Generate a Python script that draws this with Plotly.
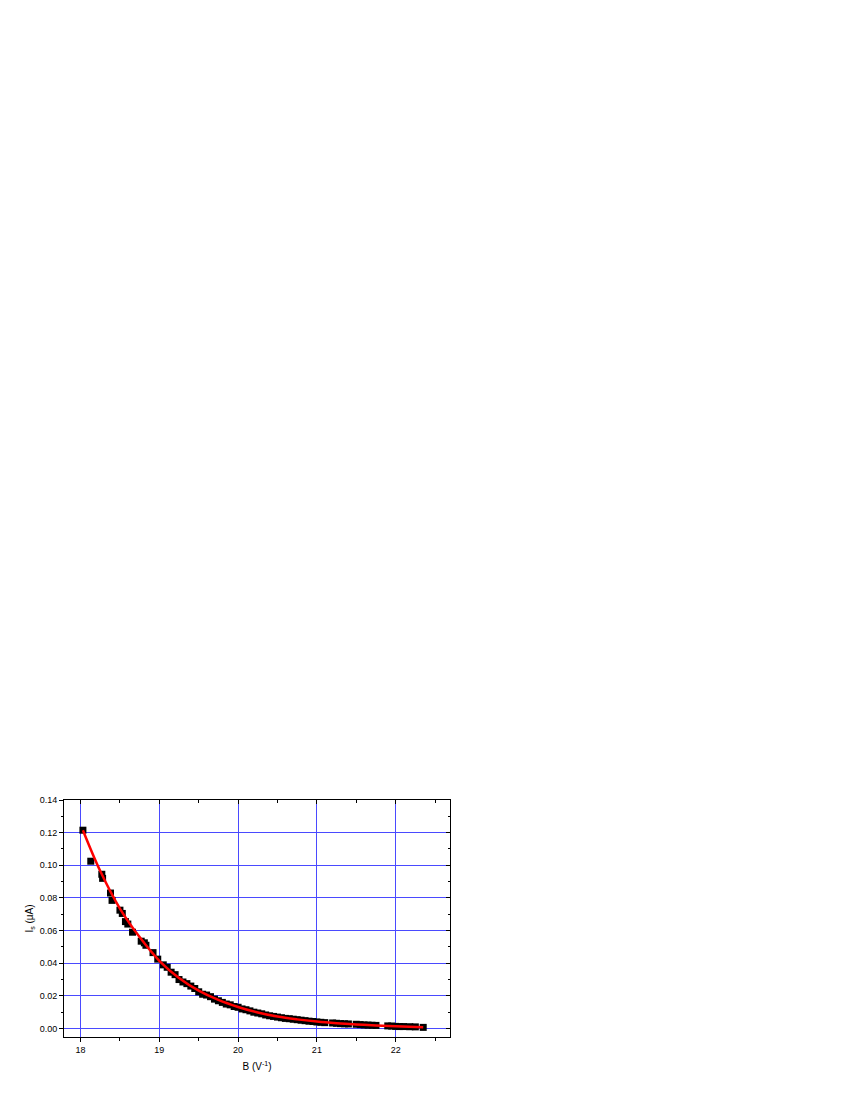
import plotly.graph_objects as go

# measured data (B in V^-1, I_s in µA)
b_data = [18.03, 18.13, 18.27, 18.28, 18.38, 18.40, 18.50, 18.53, 18.57, 18.60,
          18.66, 18.77, 18.81, 18.83, 18.92, 18.98, 19.05, 19.10, 19.15, 19.20,
          19.25, 19.30, 19.35, 19.40, 19.45, 19.50, 19.55, 19.60, 19.65, 19.70,
          19.75, 19.80, 19.85, 19.90, 19.95, 20.00, 20.05, 20.10, 20.15, 20.20,
          20.25, 20.30, 20.35, 20.40, 20.45, 20.50, 20.55, 20.60, 20.65, 20.70,
          20.75, 20.80, 20.85, 20.90, 20.95, 21.00, 21.05, 21.10, 21.20, 21.25,
          21.30, 21.35, 21.40, 21.50, 21.55, 21.60, 21.65, 21.70, 21.75, 21.90,
          21.95, 22.00, 22.05, 22.10, 22.18, 22.25, 22.35]
i_data = [0.1215, 0.1025, 0.0945, 0.0920, 0.0830, 0.0785, 0.0725, 0.0705, 0.0655, 0.0640,
          0.0590, 0.0535, 0.0525, 0.0510, 0.0465, 0.0425, 0.0390, 0.0375, 0.0345, 0.0330,
          0.0300, 0.0285, 0.0275, 0.0260, 0.0245, 0.0225, 0.0210, 0.0205, 0.0195, 0.0180,
          0.0170, 0.0160, 0.0150, 0.0145, 0.0135, 0.0130, 0.0120, 0.0115, 0.0108, 0.0100,
          0.0095, 0.0090, 0.0083, 0.0078, 0.0074, 0.0070, 0.0066, 0.0062, 0.0060, 0.0057,
          0.0054, 0.0051, 0.0048, 0.0045, 0.0043, 0.0040, 0.0038, 0.0036, 0.0034, 0.0032,
          0.0030, 0.0029, 0.0028, 0.0026, 0.0024, 0.0022, 0.0021, 0.0020, 0.0019, 0.0016,
          0.0015, 0.0013, 0.0012, 0.0012, 0.0011, 0.0010, 0.0007]

# fitted curve
b_fit = [18.03, 18.25, 18.5, 18.75, 19.0, 19.25, 19.5, 19.75, 20.0, 20.25,
         20.5, 20.75, 21.0, 21.25, 21.5, 21.75, 22.0, 22.35]
i_fit = [0.1215, 0.0965, 0.0735, 0.0560, 0.0415, 0.0310, 0.0232, 0.0175, 0.0132, 0.0098,
         0.0073, 0.0056, 0.0043, 0.0033, 0.0025, 0.0019, 0.0014, 0.0008]

x_range = [17.79, 22.69]
y_range = [-0.0052, 0.14]

fig = go.Figure()
fig.add_trace(go.Scatter(x=b_data, y=i_data, mode="markers",
                         marker=dict(symbol="square", size=7, color="black"),
                         showlegend=False))
fig.add_trace(go.Scatter(x=b_fit, y=i_fit, mode="lines", line_shape="spline",
                         line=dict(color="#ff0000", width=2.5), showlegend=False))
# invisible trace to anchor mirrored axes
fig.add_trace(go.Scatter(x=[x_range[0]], y=[y_range[0]], xaxis="x2", yaxis="y2",
                         mode="markers", marker=dict(opacity=0), showlegend=False,
                         hoverinfo="skip"))

font = dict(family="Liberation Sans, Arial, sans-serif", size=9, color="black")
fig.update_layout(
    width=850, height=1100,
    margin=dict(l=56, r=408, t=792, b=71),
    paper_bgcolor="white", plot_bgcolor="white",
    font=font,
    xaxis=dict(range=x_range, dtick=1, tick0=18, ticks="outside", ticklen=4,
               tickcolor="black", showline=True, linecolor="black", linewidth=1,
               showgrid=True, gridcolor="#4a4aff", gridwidth=1, zeroline=False,
               minor=dict(ticks="outside", dtick=0.5, tick0=18, ticklen=2.5,
                          tickcolor="black", showgrid=False),
               title=dict(text="B (V<sup>-1</sup>)", font=dict(size=10), standoff=9)),
    yaxis=dict(range=y_range, dtick=0.02, tick0=0, tickformat=".2f", ticks="outside",
               ticklen=4, tickcolor="black", showline=True, linecolor="black",
               linewidth=1, showgrid=True, gridcolor="#4a4aff", gridwidth=1,
               zeroline=False,
               minor=dict(ticks="outside", dtick=0.01, tick0=0, ticklen=2.5,
                          tickcolor="black", showgrid=False),
               title=dict(text="I<sub>s</sub> (μA)", font=dict(size=10), standoff=4)),
    xaxis2=dict(range=x_range, overlaying="x", side="top", anchor="y2", dtick=1, tick0=18,
                ticks="inside", ticklen=4, tickcolor="black", showline=True,
                linecolor="black", linewidth=1, showgrid=False, zeroline=False,
                showticklabels=False,
                minor=dict(ticks="inside", dtick=0.5, tick0=18, ticklen=2.5,
                           tickcolor="black")),
    yaxis2=dict(range=y_range, overlaying="y", side="right", anchor="x2", dtick=0.02,
                tick0=0, ticks="inside", ticklen=4, tickcolor="black", showline=True,
                linecolor="black", linewidth=1, showgrid=False, zeroline=False,
                showticklabels=False,
                minor=dict(ticks="inside", dtick=0.01, tick0=0, ticklen=2.5,
                           tickcolor="black")),
)

fig.write_html("out.html")
